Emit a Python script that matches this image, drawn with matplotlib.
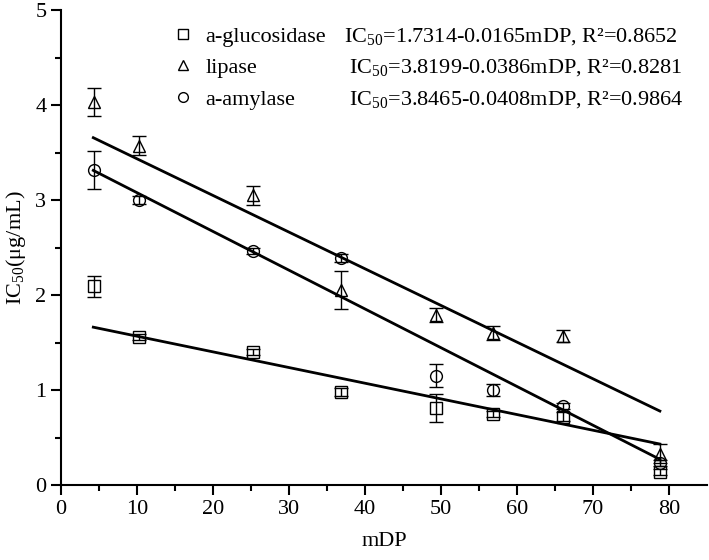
import numpy as np
import matplotlib
matplotlib.use("Agg")
import matplotlib.pyplot as plt
from matplotlib.lines import Line2D

plt.rcParams['font.family'] = ['Liberation Serif', 'DejaVu Serif']
plt.rcParams['mathtext.fontset'] = 'custom'
plt.rcParams['mathtext.rm'] = 'Liberation Serif'
plt.rcParams['mathtext.it'] = 'Liberation Serif:italic'

# ---- data ----
mdp = [4.3, 10.3, 25.2, 36.8, 49.3, 56.9, 66.0, 78.8]
glucosidase = [2.09, 1.555, 1.40, 0.98, 0.81, 0.75, 0.72, 0.14]
glucosidase_err = [0.115, 0.03, 0.03, 0.04, 0.145, 0.03, 0.05, 0.03]
lipase = [4.03, 3.57, 3.05, 2.05, 1.79, 1.60, 1.57, 0.33]
lipase_err = [0.15, 0.10, 0.10, 0.20, 0.07, 0.07, 0.06, 0.10]
amylase = [3.32, 3.00, 2.46, 2.39, 1.15, 1.00, 0.83, 0.23]
amylase_err = [0.20, 0.04, 0.03, 0.04, 0.12, 0.06, 0.03, 0.03]

# fitted lines as drawn in the reference (intercept, slope)
fit_intercept = [1.7314, 3.8199, 3.485]
fit_slope = [-0.0165, -0.0386, -0.0408]
fit_range = [4.25, 78.8]

series_names = ['a-glucosidase', 'lipase', 'a-amylase']
equations = ['IC$_{50}$=1.7314-0.0165mDP, R\u00b2=0.8652',
             'IC$_{50}$=3.8199-0.0386mDP, R\u00b2=0.8281',
             'IC$_{50}$=3.8465-0.0408mDP, R\u00b2=0.9864']
markers = ['s', '^', 'o']

x_ticks = [0, 10, 20, 30, 40, 50, 60, 70, 80]
y_ticks = [0, 1, 2, 3, 4, 5]

fig = plt.figure(figsize=(7.09, 5.6), dpi=100)
ax = fig.add_axes([61/709, 75/560, 646/709, 475/560])

x = np.array(mdp)
all_y = [glucosidase, lipase, amylase]
all_e = [glucosidase_err, lipase_err, amylase_err]
handles = []
xx = np.array(fit_range)
for y, e, m, b, k in zip(all_y, all_e, markers, fit_intercept, fit_slope):
    ax.errorbar(x, y, yerr=e, fmt=m, mfc='none', mec='black', mew=1.0,
                ms=8.5, ecolor='black', elinewidth=1.0, capsize=5, capthick=1.0,
                color='black', zorder=3)
    ax.plot(xx, b + k * xx, color='black', lw=2.0, zorder=2)
    handles.append(Line2D([], [], ls='none', marker=m, mfc='none', mec='black',
                          mew=1.0, ms=7))

ax.set_xlim(0, 85)
ax.set_ylim(0, 5)
ax.set_xticks(x_ticks)
ax.set_yticks(y_ticks)
ax.set_xticks(np.arange(5, 85, 10), minor=True)
ax.set_yticks(np.arange(0.5, 5, 1), minor=True)
for s in ['top', 'right']:
    ax.spines[s].set_visible(False)
for s in ['left', 'bottom']:
    ax.spines[s].set_linewidth(1.5)
ax.tick_params(which='major', direction='out', length=7, width=1.5, labelsize=16)
ax.tick_params(which='minor', direction='out', length=4, width=1.5)
ax.set_xlabel('mDP', fontsize=16, labelpad=10)
ax.set_ylabel('IC$_{50}$(\u03bcg/mL)', fontsize=16, labelpad=5)

leg = ax.legend(handles, series_names, loc='upper left',
                bbox_to_anchor=(172/709, 1 - 26/560), bbox_transform=fig.transFigure,
                frameon=False, fontsize=16, handlelength=1.0, handletextpad=0.5,
                labelspacing=0.5, borderpad=0, borderaxespad=0)

eq_x = [344, 349, 349]
row_y = [37, 68, 100]
for t, ex, ry in zip(equations, eq_x, row_y):
    fig.text(ex/709, 1 - ry/560, t, fontsize=16, va='center', ha='left')

fig.savefig('out.png', dpi=100)
